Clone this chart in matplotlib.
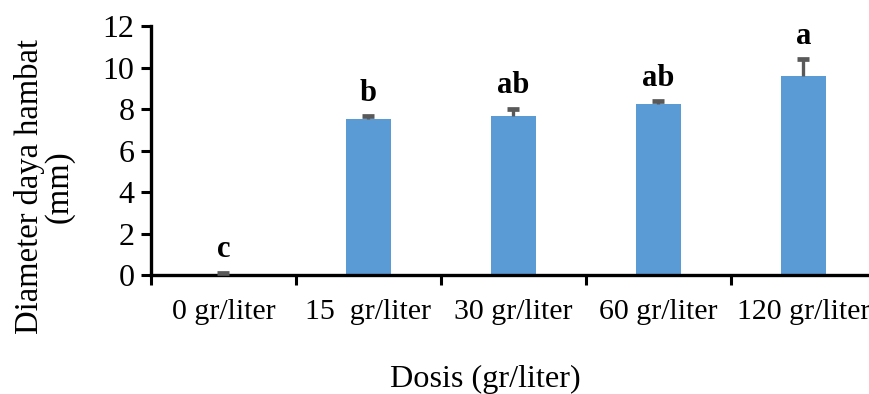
import matplotlib.pyplot as plt
import numpy as np

categories = ["0 gr/liter", "15  gr/liter", "30 gr/liter", "60 gr/liter", "120 gr/liter"]
means = [0.0, 7.5, 7.68, 8.23, 9.59]
errors = [0.12, 0.14, 0.34, 0.16, 0.82]
letters = ["c", "b", "ab", "ab", "a"]

plt.rcParams["font.family"] = ["Liberation Serif", "DejaVu Serif"]

fig = plt.figure(figsize=(8.7, 3.94), dpi=100)
ax = fig.add_axes([151 / 870, 1 - 275 / 394, 725 / 870, 249 / 394])

x = np.arange(len(categories))
ax.bar(x, means, width=0.317, color="#5B9BD5", zorder=2)
eb = ax.errorbar(x, means, yerr=[np.zeros(len(errors)), errors], fmt="none",
                 ecolor="#595959", elinewidth=2.4, capsize=4.3, capthick=3.4, zorder=3)
# only the upper cap is drawn in the original
eb[1][0].set_visible(False)

for xi, m, e, lab in zip(x, means, errors, letters):
    ax.annotate(lab, (xi, m + e), xytext=(0, 6), textcoords="offset points",
                ha="center", va="bottom", fontsize=22, fontweight="bold")

ax.set_xlim(-0.5, 4.5)
ax.set_ylim(0, 12)
ax.set_yticks(range(0, 13, 2))
ax.set_xticks(np.arange(-0.5, 4.5, 1.0))
ax.set_xticklabels([])
ax.set_xticks(x, minor=True)
ax.set_xticklabels(categories, minor=True, fontsize=21.5)
ax.tick_params(axis="x", which="minor", length=0, pad=17)
ax.tick_params(axis="x", which="major", length=7, width=2.2, direction="out")
ax.tick_params(axis="y", length=7, width=2.2, direction="out", labelsize=23, pad=5)

for s in ["top", "right"]:
    ax.spines[s].set_visible(False)
for s in ["left", "bottom"]:
    ax.spines[s].set_linewidth(2.4)

fig.text(485 / 870, 1 - 379 / 394, "Dosis (gr/liter)", ha="center", va="center", fontsize=23.2)
fig.text(44 / 870, 1 - 187 / 394, "Diameter daya hambat\n(mm)", ha="center", va="center",
         rotation=90, fontsize=23.5, linespacing=0.95)

fig.savefig("out.png", dpi=100)
